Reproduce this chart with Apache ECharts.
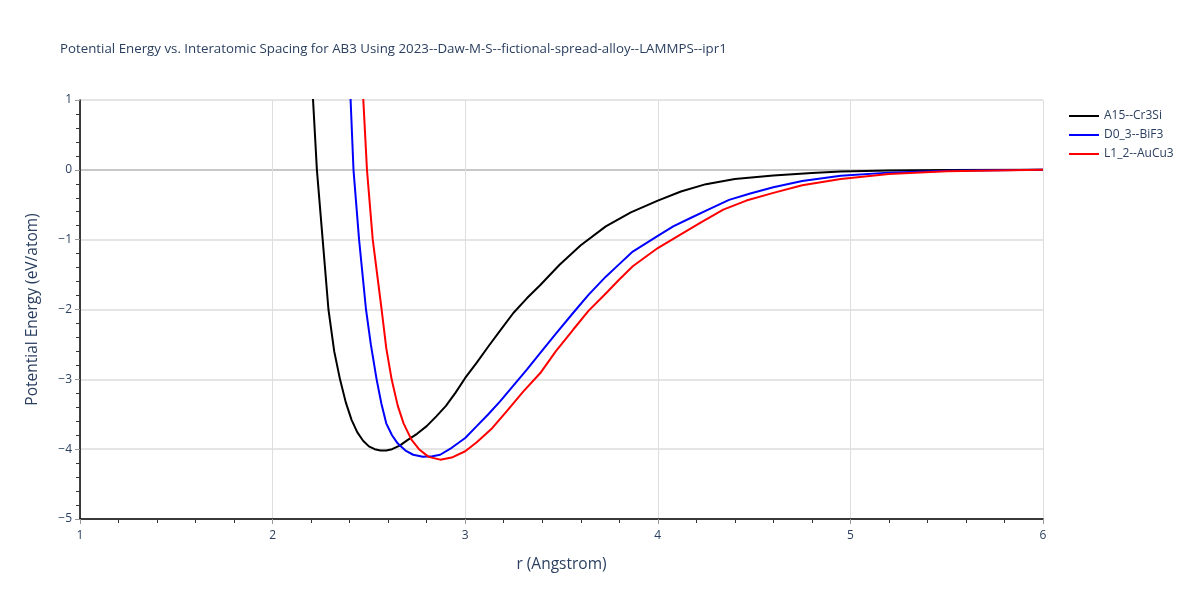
<!DOCTYPE html>
<html>
<head>
<meta charset="utf-8">
<title>Potential Energy vs. Interatomic Spacing</title>
<script src="https://cdn.jsdelivr.net/npm/echarts@6/dist/echarts.min.js"></script>
<style>
  html, body { margin: 0; padding: 0; background: #fff; }
  #chart { width: 1200px; height: 600px; }
</style>
</head>
<body>
<div id="chart"></div>
<script>
// 数据：r (Angstrom) 与势能 (eV/atom)
var seriesNames = ['A15--Cr3Si', 'D0_3--BiF3', 'L1_2--AuCu3'];
var seriesColors = ['#000000', '#0000ff', '#ff0000'];

var rA15 = [2.20, 2.21, 2.23, 2.26, 2.29, 2.32, 2.35, 2.38, 2.41, 2.44, 2.47, 2.50, 2.53, 2.56, 2.59, 2.62, 2.66, 2.70, 2.75, 2.80, 2.85, 2.90, 2.95, 3.00, 3.06, 3.12, 3.19, 3.25, 3.32, 3.39, 3.49, 3.60, 3.73, 3.86, 4.00, 4.12, 4.25, 4.40, 4.60, 4.80, 4.95, 5.20, 5.50, 6.00];
var eA15 = [1.5, 1.0, 0.0, -1.0, -2.0, -2.6, -3.0, -3.33, -3.58, -3.76, -3.88, -3.96, -4.00, -4.02, -4.02, -4.00, -3.95, -3.87, -3.78, -3.67, -3.53, -3.38, -3.19, -2.98, -2.76, -2.53, -2.27, -2.05, -1.84, -1.65, -1.36, -1.08, -0.81, -0.61, -0.44, -0.31, -0.205, -0.13, -0.08, -0.045, -0.024, -0.01, -0.003, 0.0];

var rD03 = [2.40, 2.405, 2.42, 2.449, 2.485, 2.51, 2.54, 2.565, 2.59, 2.62, 2.65, 2.69, 2.73, 2.78, 2.83, 2.87, 2.93, 3.00, 3.06, 3.12, 3.18, 3.25, 3.32, 3.39, 3.47, 3.56, 3.64, 3.73, 3.80, 3.87, 4.00, 4.08, 4.17, 4.27, 4.37, 4.48, 4.60, 4.75, 4.95, 5.20, 5.50, 6.00];
var eD03 = [1.3, 1.0, 0.0, -1.0, -2.0, -2.5, -3.0, -3.35, -3.63, -3.80, -3.92, -4.02, -4.08, -4.11, -4.10, -4.08, -3.98, -3.84, -3.67, -3.50, -3.32, -3.09, -2.86, -2.62, -2.35, -2.05, -1.79, -1.53, -1.35, -1.17, -0.945, -0.81, -0.69, -0.56, -0.43, -0.34, -0.25, -0.16, -0.086, -0.04, -0.012, 0.0];

var rL12 = [2.465, 2.471, 2.49, 2.52, 2.566, 2.59, 2.618, 2.65, 2.68, 2.72, 2.76, 2.81, 2.87, 2.93, 3.00, 3.06, 3.14, 3.215, 3.30, 3.39, 3.47, 3.56, 3.64, 3.73, 3.80, 3.87, 4.00, 4.115, 4.22, 4.34, 4.46, 4.60, 4.75, 4.95, 5.20, 5.50, 6.00];
var eL12 = [1.3, 1.0, 0.0, -1.0, -2.0, -2.55, -3.0, -3.38, -3.63, -3.86, -4.00, -4.11, -4.15, -4.12, -4.03, -3.90, -3.70, -3.46, -3.18, -2.91, -2.60, -2.29, -2.02, -1.77, -1.57, -1.38, -1.12, -0.93, -0.76, -0.57, -0.44, -0.33, -0.22, -0.13, -0.06, -0.02, 0.0];

var xTicks = [1, 2, 3, 4, 5, 6];
var yTicks = [1, 0, -1, -2, -3, -4, -5];

var textColor = '#2a3f5f';
var fontFamily = '"Open Sans", Verdana, Arial, sans-serif';

function pairs(xs, ys) {
    return xs.map(function (x, i) { return [x, ys[i]]; });
}

var allData = [pairs(rA15, eA15), pairs(rD03, eD03), pairs(rL12, eL12)];

var chart = echarts.init(document.getElementById('chart'), null, { renderer: 'canvas' });

var option = {
    backgroundColor: '#ffffff',
    animation: false,
    title: {
        text: 'Potential Energy vs. Interatomic Spacing for AB3 Using 2023--Daw-M-S--fictional-spread-alloy--LAMMPS--ipr1',
        left: 55,
        top: 38,
        textStyle: { color: textColor, fontSize: 13.3, fontWeight: 'normal', fontFamily: fontFamily }
    },
    legend: {
        orient: 'vertical',
        left: 1063,
        top: 105,
        itemWidth: 30,
        itemHeight: 2,
        itemGap: 7,
        data: seriesNames,
        textStyle: { color: textColor, fontSize: 12, fontFamily: fontFamily }
    },
    grid: { left: 80, right: 157, top: 100, bottom: 81, containLabel: false },
    xAxis: {
        type: 'value',
        min: xTicks[0],
        max: xTicks[xTicks.length - 1],
        interval: 1,
        name: 'r (Angstrom)',
        nameLocation: 'middle',
        nameGap: 38,
        nameTextStyle: { color: textColor, fontSize: 15.5, fontFamily: fontFamily },
        axisLine: { show: true, onZero: false, lineStyle: { color: '#000', width: 1.5 } },
        axisTick: { show: true, length: 5, lineStyle: { color: '#999' } },
        minorTick: { show: true, splitNumber: 5, length: 4, lineStyle: { color: '#333' } },
        axisLabel: { color: textColor, fontSize: 12, fontFamily: fontFamily, margin: 11 },
        splitLine: { show: true, lineStyle: { color: '#dedede', width: 1 } }
    },
    yAxis: {
        type: 'value',
        min: yTicks[yTicks.length - 1],
        max: yTicks[0],
        interval: 1,
        name: 'Potential Energy (eV/atom)',
        nameLocation: 'middle',
        nameGap: 39,
        nameTextStyle: { color: textColor, fontSize: 15.5, fontFamily: fontFamily },
        axisLine: { show: true, onZero: false, lineStyle: { color: '#000', width: 1.5 } },
        axisTick: { show: true, length: 5, lineStyle: { color: '#999' } },
        minorTick: { show: true, splitNumber: 5, length: 4, lineStyle: { color: '#333' } },
        axisLabel: {
            color: textColor, fontSize: 12, fontFamily: fontFamily, margin: 8,
            formatter: function (v) { return v < 0 ? '\u2212' + Math.abs(v) : String(v); }
        },
        splitLine: {
            show: true,
            lineStyle: {
                color: yTicks.slice().reverse().map(function (t) { return t === 0 ? '#c8c8c8' : '#e5e5e5'; }),
                width: 2
            }
        }
    },
    series: seriesNames.map(function (name, i) {
        return {
            name: name,
            type: 'line',
            data: allData[i],
            symbol: 'none',
            showSymbol: false,
            clip: true,
            smooth: false,
            lineStyle: { color: seriesColors[i], width: 2 },
            itemStyle: { color: seriesColors[i] }
        };
    })
};

chart.setOption(option);
</script>
</body>
</html>
